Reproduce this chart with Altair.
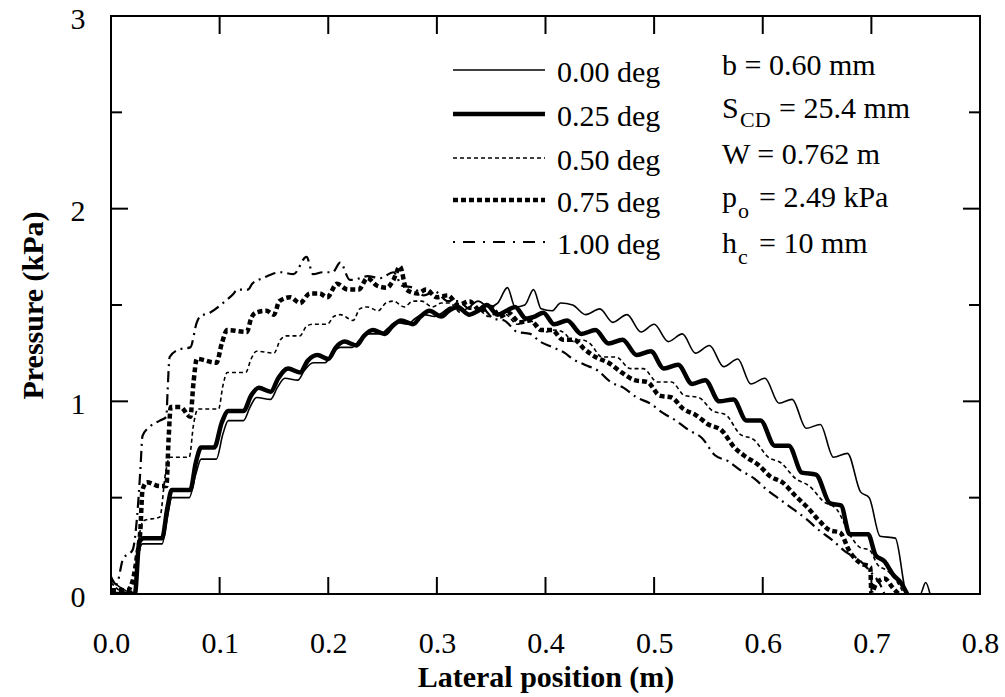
import altair as alt
import pandas as pd

# ---------------- data ----------------
x_000 = [0.000, 0.010, 0.022, 0.026, 0.029, 0.047, 0.052, 0.056, 0.072, 0.078, 0.083, 0.097, 0.103, 0.108,
         0.122, 0.128, 0.134, 0.147, 0.153, 0.160, 0.172, 0.178, 0.186, 0.197, 0.204, 0.211, 0.222, 0.229,
         0.237, 0.248, 0.255, 0.262, 0.273, 0.280, 0.288, 0.298, 0.305, 0.313, 0.323, 0.330, 0.338, 0.348,
         0.356, 0.365, 0.372, 0.381, 0.389, 0.396, 0.406, 0.414, 0.425, 0.437, 0.450, 0.462, 0.475, 0.488,
         0.500, 0.513, 0.526, 0.538, 0.551, 0.564, 0.577, 0.589, 0.602, 0.615, 0.627, 0.640, 0.653, 0.665,
         0.678, 0.690, 0.698, 0.708, 0.722, 0.733, 0.745, 0.750, 0.754]
y_000 = [0.07, 0.03, 0.00, 0.22, 0.26, 0.26, 0.40, 0.50, 0.50, 0.62, 0.70, 0.70, 0.83, 0.90,
         0.90, 0.97, 1.02, 1.01, 1.07, 1.12, 1.11, 1.16, 1.20, 1.20, 1.25, 1.28, 1.28, 1.32,
         1.35, 1.35, 1.38, 1.41, 1.40, 1.43, 1.45, 1.44, 1.46, 1.49, 1.47, 1.49, 1.52, 1.49,
         1.51, 1.59, 1.49, 1.50, 1.58, 1.48, 1.47, 1.51, 1.50, 1.45, 1.48, 1.41, 1.45, 1.36,
         1.40, 1.31, 1.35, 1.25, 1.29, 1.18, 1.22, 1.09, 1.12, 0.99, 1.01, 0.86, 0.88, 0.71,
         0.73, 0.53, 0.50, 0.30, 0.29, 0.00, 0.00, 0.06, 0.00]

x_025 = [0.000, 0.022, 0.026, 0.030, 0.047, 0.052, 0.056, 0.073, 0.078, 0.083, 0.095, 0.102, 0.108, 0.122,
         0.129, 0.136, 0.147, 0.154, 0.163, 0.174, 0.181, 0.190, 0.200, 0.207, 0.215, 0.226, 0.233, 0.241,
         0.252, 0.259, 0.267, 0.278, 0.285, 0.293, 0.304, 0.311, 0.319, 0.330, 0.338, 0.346, 0.356, 0.364,
         0.372, 0.382, 0.390, 0.398, 0.408, 0.420, 0.433, 0.446, 0.458, 0.471, 0.484, 0.497, 0.509, 0.522,
         0.535, 0.547, 0.560, 0.573, 0.585, 0.598, 0.611, 0.624, 0.636, 0.649, 0.662, 0.672, 0.680, 0.697,
         0.704, 0.712, 0.720, 0.727, 0.733]
y_025 = [0.00, 0.00, 0.27, 0.29, 0.29, 0.45, 0.54, 0.54, 0.68, 0.76, 0.76, 0.89, 0.95, 0.95,
         1.03, 1.07, 1.05, 1.12, 1.17, 1.15, 1.21, 1.24, 1.22, 1.28, 1.31, 1.29, 1.34, 1.37,
         1.35, 1.39, 1.42, 1.40, 1.44, 1.47, 1.44, 1.47, 1.49, 1.45, 1.47, 1.50, 1.45, 1.47,
         1.49, 1.43, 1.44, 1.46, 1.40, 1.42, 1.35, 1.37, 1.30, 1.32, 1.24, 1.26, 1.17, 1.19,
         1.09, 1.11, 1.00, 1.01, 0.90, 0.90, 0.77, 0.77, 0.63, 0.62, 0.47, 0.46, 0.31, 0.31,
         0.20, 0.17, 0.10, 0.06, 0.00]

x_050 = [0.000, 0.012, 0.022, 0.026, 0.030, 0.045, 0.050, 0.054, 0.072, 0.076, 0.080, 0.099, 0.103, 0.107,
         0.124, 0.129, 0.134, 0.150, 0.156, 0.162, 0.174, 0.180, 0.186, 0.199, 0.205, 0.211, 0.223, 0.229,
         0.236, 0.246, 0.253, 0.260, 0.270, 0.278, 0.286, 0.296, 0.304, 0.312, 0.322, 0.330, 0.338, 0.348,
         0.356, 0.364, 0.374, 0.382, 0.390, 0.400, 0.408, 0.416, 0.426, 0.433, 0.441, 0.452, 0.465, 0.478,
         0.490, 0.503, 0.516, 0.528, 0.541, 0.554, 0.566, 0.579, 0.592, 0.605, 0.617, 0.630, 0.643, 0.656,
         0.668, 0.681, 0.690, 0.698, 0.706, 0.715, 0.724, 0.730]
y_050 = [0.06, 0.01, 0.02, 0.30, 0.38, 0.40, 0.62, 0.71, 0.71, 0.88, 0.96, 0.96, 1.08, 1.15,
         1.15, 1.22, 1.26, 1.25, 1.32, 1.34, 1.34, 1.39, 1.40, 1.40, 1.44, 1.45, 1.42, 1.48,
         1.49, 1.47, 1.51, 1.52, 1.49, 1.52, 1.52, 1.49, 1.51, 1.51, 1.46, 1.49, 1.48, 1.44,
         1.46, 1.45, 1.40, 1.42, 1.41, 1.36, 1.37, 1.36, 1.31, 1.32, 1.30, 1.23, 1.23, 1.17,
         1.17, 1.10, 1.10, 1.03, 1.02, 0.95, 0.93, 0.83, 0.80, 0.71, 0.68, 0.60, 0.56, 0.48,
         0.44, 0.30, 0.24, 0.23, 0.15, 0.12, 0.06, 0.00]

x_075 = [0.000, 0.015, 0.020, 0.024, 0.027, 0.029, 0.033, 0.045, 0.051, 0.053, 0.055, 0.064, 0.073, 0.076,
         0.079, 0.097, 0.102, 0.107, 0.125, 0.129, 0.133, 0.143, 0.150, 0.155, 0.165, 0.174, 0.183, 0.192,
         0.199, 0.208, 0.218, 0.228, 0.236, 0.245, 0.254, 0.260, 0.266, 0.272, 0.282, 0.290, 0.300, 0.310,
         0.320, 0.330, 0.340, 0.350, 0.358, 0.366, 0.376, 0.386, 0.396, 0.406, 0.416, 0.426, 0.436, 0.446,
         0.458, 0.470, 0.482, 0.494, 0.505, 0.516, 0.527, 0.538, 0.550, 0.562, 0.574, 0.585, 0.596, 0.607,
         0.618, 0.630, 0.641, 0.652, 0.662, 0.671, 0.680, 0.690, 0.699, 0.700, 0.704, 0.712, 0.720, 0.725]
y_075 = [0.02, 0.02, 0.07, 0.20, 0.33, 0.54, 0.58, 0.56, 0.56, 0.80, 0.97, 0.97, 0.92, 1.10,
         1.22, 1.20, 1.30, 1.37, 1.36, 1.43, 1.46, 1.47, 1.45, 1.52, 1.54, 1.51, 1.56, 1.56,
         1.54, 1.61, 1.58, 1.58, 1.64, 1.60, 1.59, 1.63, 1.70, 1.58, 1.56, 1.58, 1.54, 1.55,
         1.50, 1.52, 1.47, 1.49, 1.44, 1.46, 1.41, 1.42, 1.37, 1.37, 1.32, 1.32, 1.27, 1.23,
         1.20, 1.15, 1.11, 1.10, 1.03, 1.02, 0.96, 0.93, 0.88, 0.85, 0.76, 0.71, 0.67, 0.61,
         0.58, 0.51, 0.45, 0.38, 0.33, 0.32, 0.22, 0.16, 0.14, 0.00, 0.05, 0.08, 0.03, 0.00]

x_100 = [0.000, 0.005, 0.011, 0.020, 0.024, 0.027, 0.029, 0.036, 0.045, 0.051, 0.052, 0.054, 0.063, 0.073,
         0.079, 0.082, 0.091, 0.103, 0.113, 0.116, 0.126, 0.130, 0.140, 0.156, 0.168, 0.180, 0.186, 0.195,
         0.204, 0.211, 0.220, 0.230, 0.236, 0.248, 0.260, 0.268, 0.278, 0.288, 0.298, 0.310, 0.320, 0.330,
         0.342, 0.352, 0.362, 0.374, 0.386, 0.395, 0.407, 0.418, 0.425, 0.436, 0.448, 0.460, 0.472, 0.484,
         0.496, 0.508, 0.520, 0.532, 0.544, 0.556, 0.568, 0.580, 0.592, 0.604, 0.616, 0.628, 0.640, 0.652,
         0.664, 0.676, 0.688, 0.700, 0.708, 0.712]
y_100 = [0.09, 0.05, 0.18, 0.23, 0.40, 0.64, 0.82, 0.87, 0.90, 0.92, 1.04, 1.23, 1.27, 1.28,
         1.41, 1.44, 1.46, 1.51, 1.56, 1.58, 1.58, 1.61, 1.64, 1.67, 1.66, 1.75, 1.66, 1.67,
         1.67, 1.72, 1.63, 1.64, 1.65, 1.64, 1.67, 1.60, 1.59, 1.55, 1.57, 1.52, 1.52, 1.48,
         1.48, 1.43, 1.42, 1.36, 1.35, 1.31, 1.28, 1.25, 1.22, 1.19, 1.16, 1.10, 1.07, 1.02,
         0.99, 0.94, 0.90, 0.85, 0.81, 0.72, 0.69, 0.64, 0.60, 0.54, 0.49, 0.44, 0.39, 0.33,
         0.28, 0.22, 0.18, 0.11, 0.05, 0.00]

series_labels = ["0.00 deg", "0.25 deg", "0.50 deg", "0.75 deg", "1.00 deg"]

x_tick_values = [0.0, 0.1, 0.2, 0.3, 0.4, 0.5, 0.6, 0.7, 0.8]
x_inner_ticks = [0.1, 0.2, 0.3, 0.4, 0.5, 0.6, 0.7]
y_tick_values = [0, 1, 2, 3]
y_major_inner = [1, 2]
y_minor_inner = [0.5, 1.5, 2.5]

param_lines = ["b = 0.60 mm", "S", "CD", "= 25.4 mm", "W = 0.762 m",
               "p", "o", "= 2.49 kPa", "h", "c", "= 10 mm"]

# ---------------- layout / styling ----------------
W, H = 869, 578
FONT = "Liberation Serif"
FS = 30

xscale = alt.Scale(domain=[0, 0.8], nice=False, zero=False)
yscale = alt.Scale(domain=[0, 3], nice=False, zero=False)

x_axis = alt.Axis(values=x_tick_values, format=".1f", ticks=False, domain=False, grid=False,
                  labelFont=FONT, labelFontSize=FS, labelColor="black", labelPadding=34,
                  labelFlush=False, labelOverlap=False,
                  title="Lateral position (m)", titleFont=FONT, titleFontSize=FS,
                  titleFontWeight="bold", titleColor="black", titlePadding=4)
y_axis = alt.Axis(values=y_tick_values, format="d", ticks=False, domain=False, grid=False,
                  labelFont=FONT, labelFontSize=FS, labelColor="black", labelPadding=26,
                  labelFlush=False, labelOverlap=False, labelOffset=3,
                  title="Pressure (kPa)", titleFont=FONT, titleFontSize=FS,
                  titleFontWeight="bold", titleColor="black", titlePadding=22)


def curve(xs, ys, width, dash=None):
    df = pd.DataFrame({"x": xs, "y": ys, "i": list(range(len(xs)))})
    kw = dict(color="black", strokeWidth=width, clip=True, strokeJoin="round",
              interpolate="monotone")
    if dash is not None:
        kw["strokeDash"] = dash
    return alt.Chart(df).mark_line(**kw).encode(
        x=alt.X("x:Q", scale=xscale, axis=x_axis),
        y=alt.Y("y:Q", scale=yscale, axis=y_axis),
        order="i:Q",
    )


layers = [
    curve(x_100, y_100, 2.2, [11, 5, 2, 5]),
    curve(x_075, y_075, 4.5, [5, 3]),
    curve(x_050, y_050, 1.6, [4, 3]),
    curve(x_025, y_025, 4.5),
    curve(x_000, y_000, 1.6),
]

# inward tick marks
xt = pd.DataFrame({"v": x_inner_ticks})
layers.append(alt.Chart(xt).mark_rule(color="black", strokeWidth=2).encode(
    x=alt.X("v:Q", scale=xscale, axis=x_axis), y=alt.value(H - 17), y2=alt.value(H)))
layers.append(alt.Chart(xt).mark_rule(color="black", strokeWidth=2).encode(
    x=alt.X("v:Q", scale=xscale, axis=x_axis), y=alt.value(0), y2=alt.value(18)))
ymj = pd.DataFrame({"v": y_major_inner})
ymn = pd.DataFrame({"v": y_minor_inner})
for d, ln in ((ymj, 17), (ymn, 11)):
    layers.append(alt.Chart(d).mark_rule(color="black", strokeWidth=2).encode(
        y=alt.Y("v:Q", scale=yscale, axis=y_axis), x=alt.value(0), x2=alt.value(ln)))
    layers.append(alt.Chart(d).mark_rule(color="black", strokeWidth=2).encode(
        y=alt.Y("v:Q", scale=yscale, axis=y_axis), x=alt.value(W - ln), x2=alt.value(W)))

# legend (drawn by hand)
legend_styles = [(1.6, None), (4.5, None), (1.6, [4, 3]), (4.5, [5, 3]), (2.2, [2, 8, 12, 8])]
legend_y = [54, 98, 142, 184, 226]
for lbl, (sw, dash), ly in zip(series_labels, legend_styles, legend_y):
    d = pd.DataFrame({"t": [lbl]})
    kw = dict(color="black", strokeWidth=sw)
    if dash is not None:
        kw["strokeDash"] = dash
    layers.append(alt.Chart(d).mark_rule(**kw).encode(
        x=alt.value(342), x2=alt.value(434), y=alt.value(ly), y2=alt.value(ly)))
    layers.append(alt.Chart(d).mark_text(font=FONT, fontSize=30, align="left", baseline="middle",
                                         color="black").encode(
        text="t:N", x=alt.value(446), y=alt.value(ly + 3)))

# parameter block
param_pos = [(611, 50, 30), (611, 93, 30), (629, 104, 22), (668, 93, 30), (611, 139, 30),
             (611, 182, 30), (627, 195, 22), (648, 182, 30), (611, 228, 30), (627, 241, 22),
             (648, 228, 30)]
for t, (px, py, fs) in zip(param_lines, param_pos):
    d = pd.DataFrame({"t": [t]})
    layers.append(alt.Chart(d).mark_text(font=FONT, fontSize=fs, align="left", baseline="middle",
                                         color="black").encode(
        text="t:N", x=alt.value(px), y=alt.value(py)))

chart = alt.layer(*layers).properties(
    width=W, height=H,
    autosize=alt.AutoSizeParams(type="none"),
    padding={"left": 111, "top": 16, "right": 25, "bottom": 103},
    background="white",
).configure_view(stroke="black", strokeWidth=2)

chart.save("out.html", embed_options={"renderer": "svg", "actions": False})
